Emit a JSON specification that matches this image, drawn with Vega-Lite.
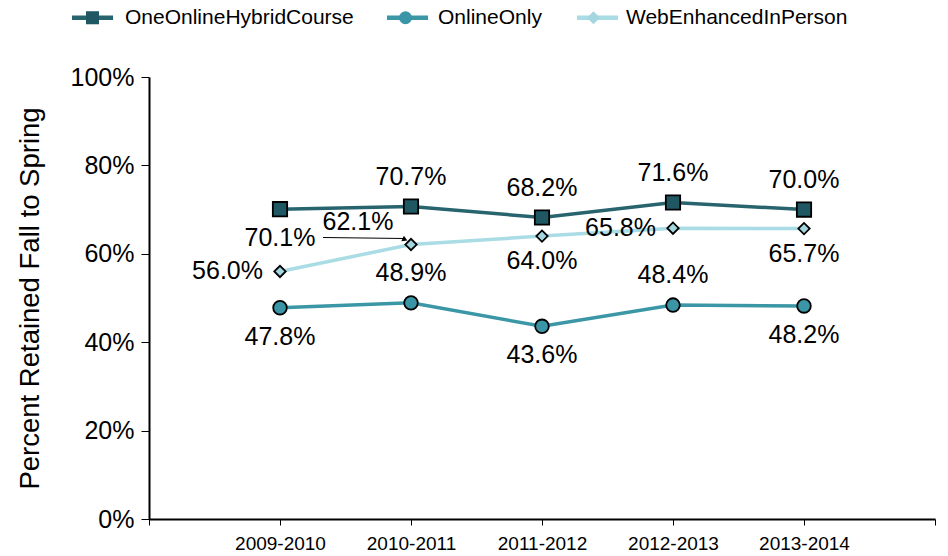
{
  "$schema": "https://vega.github.io/schema/vega-lite/v6.json",
  "width": 786,
  "height": 442,
  "autosize": {"type": "none"},
  "padding": {"left": 149, "top": 77, "right": 13, "bottom": 37},
  "background": "white",
  "config": {
    "view": {"stroke": null},
    "font": "Liberation Sans",
    "text": {"font": "Liberation Sans"}
  },
  "data": {
    "values": [
      {"year": "2009-2010", "series": "OneOnlineHybridCourse", "value": 0.701},
      {"year": "2010-2011", "series": "OneOnlineHybridCourse", "value": 0.707},
      {"year": "2011-2012", "series": "OneOnlineHybridCourse", "value": 0.682},
      {"year": "2012-2013", "series": "OneOnlineHybridCourse", "value": 0.716},
      {"year": "2013-2014", "series": "OneOnlineHybridCourse", "value": 0.700},
      {"year": "2009-2010", "series": "OnlineOnly", "value": 0.478},
      {"year": "2010-2011", "series": "OnlineOnly", "value": 0.489},
      {"year": "2011-2012", "series": "OnlineOnly", "value": 0.436},
      {"year": "2012-2013", "series": "OnlineOnly", "value": 0.484},
      {"year": "2013-2014", "series": "OnlineOnly", "value": 0.482},
      {"year": "2009-2010", "series": "WebEnhancedInPerson", "value": 0.560},
      {"year": "2010-2011", "series": "WebEnhancedInPerson", "value": 0.621},
      {"year": "2011-2012", "series": "WebEnhancedInPerson", "value": 0.640},
      {"year": "2012-2013", "series": "WebEnhancedInPerson", "value": 0.658},
      {"year": "2013-2014", "series": "WebEnhancedInPerson", "value": 0.657}
    ]
  },
  "encoding": {
    "x": {
      "field": "year",
      "type": "ordinal",
      "scale": {"type": "point", "padding": 0, "domain": ["_s", "2009-2010", "2010-2011", "2011-2012", "2012-2013", "2013-2014", "_e"]},
      "axis": {
        "title": null,
        "labelAngle": 0,
        "labelExpr": "datum.value == '_s' || datum.value == '_e' ? '' : datum.value",
        "labelFontSize": 19,
        "labelColor": "#000000",
        "labelPadding": 9,
        "tickColor": "#000000",
        "tickSize": 6,
        "tickWidth": 1,
        "domainColor": "#000000",
        "domainWidth": 2,
        "grid": false
      }
    },
    "y": {
      "field": "value",
      "type": "quantitative",
      "scale": {"domain": [0, 1]},
      "axis": {
        "title": "Percent Retained Fall to Spring",
        "titleFontSize": 27.5,
        "titleFontWeight": "normal",
        "titleColor": "#000000",
        "titlePadding": 26,
        "values": [0, 0.2, 0.4, 0.6, 0.8, 1],
        "format": ".0%",
        "labelFontSize": 25,
        "labelColor": "#000000",
        "labelPadding": 7,
        "tickColor": "#000000",
        "tickSize": 8,
        "tickWidth": 1,
        "domainColor": "#000000",
        "domainWidth": 2,
        "grid": false
      }
    }
  },
  "layer": [
    {
      "mark": {"type": "line", "strokeWidth": 3.5},
      "encoding": {
        "color": {
          "field": "series",
          "type": "nominal",
          "scale": {
            "domain": ["OneOnlineHybridCourse", "OnlineOnly", "WebEnhancedInPerson"],
            "range": ["#28646E", "#3B97A6", "#A9DCE4"]
          },
          "legend": {
            "orient": "none",
            "direction": "horizontal",
            "legendX": -67,
            "legendY": -70,
            "padding": 0,
            "title": null,
            "symbolType": "M-3.15,0H3.15",
            "symbolSize": 170,
            "symbolStrokeWidth": 4.5,
            "labelFontSize": 21,
            "labelLimit": 400,
            "labelOpacity": 0,
            "labelOffset": 22,
            "columnPadding": 23,
            "zindex": 1
          }
        }
      }
    },
    {
      "transform": [{"filter": "datum.series == 'WebEnhancedInPerson' && datum.year == '2010-2011'"}],
      "mark": {"type": "rule", "color": "#000000", "strokeWidth": 1.2, "xOffset": -88, "x2Offset": -6, "yOffset": -7, "y2Offset": -6},
      "encoding": {
        "x2": {"field": "year"},
        "y2": {"field": "value"}
      }
    },
    {
      "transform": [{"filter": "datum.series == 'WebEnhancedInPerson' && datum.year == '2010-2011'"}],
      "mark": {"type": "point", "shape": "triangle-right", "filled": true, "color": "#000000", "size": 36, "angle": 25, "xOffset": -6, "yOffset": -5, "opacity": 1},
      "encoding": {}
    },
    {
      "mark": {"type": "point", "filled": true, "stroke": "#000000", "strokeWidth": 1.8, "opacity": 1},
      "encoding": {
        "fill": {
          "field": "series",
          "type": "nominal",
          "scale": {"range": ["#1F5862", "#3A96A6", "#A3D6DF"]},
          "legend": {
            "orient": "none",
            "direction": "horizontal",
            "legendX": -67,
            "legendY": -70,
            "padding": 0,
            "title": null,
            "symbolSize": 170,
            "symbolStrokeColor": "#000000",
            "symbolStrokeWidth": 1.6,
            "labelFontSize": 21,
            "labelColor": "#000000",
            "labelLimit": 400,
            "labelOffset": 22,
            "columnPadding": 41,
            "zindex": 2,
            "encode": {"symbols": {"update": {"stroke": {"value": "#000000"}, "strokeWidth": {"value": 1.6}}}}
          }
        },
        "shape": {
          "field": "series",
          "type": "nominal",
          "scale": {"range": ["square", "circle", "diamond"]},
          "legend": {
            "orient": "none",
            "direction": "horizontal",
            "legendX": -67,
            "legendY": -70,
            "padding": 0,
            "title": null,
            "symbolSize": 170,
            "symbolStrokeColor": "#000000",
            "symbolStrokeWidth": 1.6,
            "labelFontSize": 21,
            "labelColor": "#000000",
            "labelLimit": 400,
            "labelOffset": 22,
            "columnPadding": 41,
            "zindex": 2,
            "encode": {"symbols": {"update": {"stroke": {"value": "#000000"}, "strokeWidth": {"value": 1.6}}}}
          }
        },
        "size": {
          "condition": [
            {"test": "datum.series == 'WebEnhancedInPerson'", "value": 130},
            {"test": "datum.series == 'OnlineOnly'", "value": 185}
          ],
          "value": 205
        }
      }
    },
    {
      "transform": [{"filter": "(datum.series == 'OneOnlineHybridCourse' && datum.year != '2009-2010') || (datum.series == 'OnlineOnly' && (datum.year == '2010-2011' || datum.year == '2012-2013'))"}],
      "mark": {"type": "text", "fontSize": 25, "color": "#000000", "dy": -30},
      "encoding": {"text": {"field": "value", "type": "quantitative", "format": ".1%"}}
    },
    {
      "transform": [{"filter": "(datum.series == 'OneOnlineHybridCourse' && datum.year == '2009-2010') || (datum.series == 'OnlineOnly' && (datum.year == '2009-2010' || datum.year == '2011-2012' || datum.year == '2013-2014'))"}],
      "mark": {"type": "text", "fontSize": 25, "color": "#000000", "dy": 29},
      "encoding": {"text": {"field": "value", "type": "quantitative", "format": ".1%"}}
    },
    {
      "transform": [{"filter": "datum.series == 'WebEnhancedInPerson' && (datum.year == '2011-2012' || datum.year == '2013-2014')"}],
      "mark": {"type": "text", "fontSize": 25, "color": "#000000", "dy": 25},
      "encoding": {"text": {"field": "value", "type": "quantitative", "format": ".1%"}}
    },
    {
      "transform": [{"filter": "datum.series == 'WebEnhancedInPerson' && (datum.year == '2009-2010' || datum.year == '2012-2013')"}],
      "mark": {"type": "text", "fontSize": 25, "color": "#000000", "align": "right", "dx": -17},
      "encoding": {"text": {"field": "value", "type": "quantitative", "format": ".1%"}}
    },
    {
      "transform": [{"filter": "datum.series == 'WebEnhancedInPerson' && datum.year == '2010-2011'"}],
      "mark": {"type": "text", "fontSize": 25, "color": "#000000", "dx": -53, "dy": -23},
      "encoding": {"text": {"field": "value", "type": "quantitative", "format": ".1%"}}
    }
  ]
}
